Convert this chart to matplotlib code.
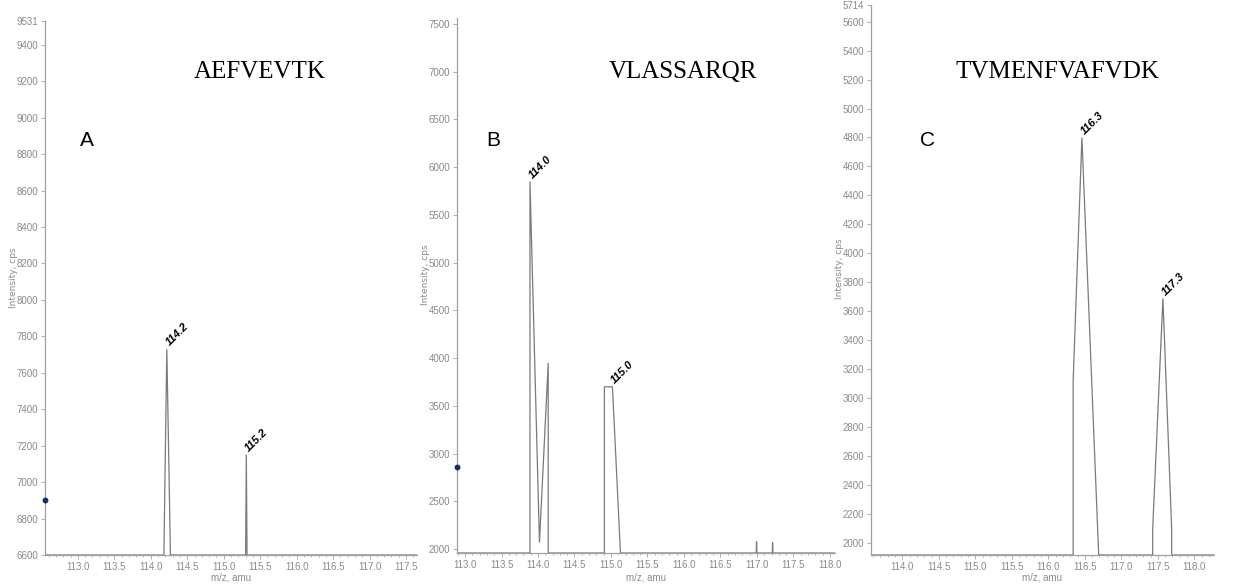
import matplotlib
matplotlib.use('Agg')
import matplotlib.pyplot as plt
from matplotlib.ticker import MultipleLocator, FixedLocator, FixedFormatter, FormatStrFormatter

# ---------------- data ----------------
peptides = ['AEFVEVTK', 'VLASSARQR', 'TVMENFVAFVDK']
panel_letters = ['A', 'B', 'C']

# Panel A trace (m/z, intensity)
a_mz = [112.55, 114.18, 114.22, 114.27, 115.30, 115.31, 115.32, 117.65]
a_int = [6600, 6600, 7730, 6600, 6600, 7150, 6600, 6600]
a_peak_labels = ['114.2', '115.2']
a_peak_mz = [114.22, 115.31]
a_peak_int = [7730, 7150]

# Panel B trace
b_mz = [112.89, 113.89, 113.89, 114.02, 114.14, 114.14, 114.91, 114.91, 115.02,
        115.13, 116.99, 116.995, 117.0, 117.21, 117.215, 117.22, 118.07]
b_int = [1960, 1960, 5850, 2070, 3950, 1960, 1960, 3700, 3700,
         1960, 1960, 2080, 1960, 1960, 2070, 1960, 1960]
b_peak_labels = ['114.0', '115.0']
b_peak_mz = [113.89, 115.02]
b_peak_int = [5850, 3700]

# Panel C trace
c_mz = [113.57, 116.34, 116.34, 116.46, 116.69, 117.43, 117.43, 117.57, 117.69, 117.69, 118.27]
c_int = [1920, 1920, 3120, 4800, 1920, 1920, 2100, 3690, 2100, 1920, 1920]
c_peak_labels = ['116.3', '117.3']
c_peak_mz = [116.46, 117.57]
c_peak_int = [4800, 3690]

# small cursor marks on the intensity axes (None = absent)
cursor_int = [6900, 2860, None]

# axis ranges / ticks
a_ylim = (6600, 9531)
b_ylim = (1960, 7560)
c_ylim = (1920, 5714)
a_yticks = [6600, 6800, 7000, 7200, 7400, 7600, 7800, 8000, 8200, 8400, 8600, 8800, 9000, 9200, 9400, 9531]
b_yticks = [2000, 2500, 3000, 3500, 4000, 4500, 5000, 5500, 6000, 6500, 7000, 7500]
c_yticks = [2000, 2200, 2400, 2600, 2800, 3000, 3200, 3400, 3600, 3800, 4000, 4200, 4400,
            4600, 4800, 5000, 5200, 5400, 5600, 5714]
a_xlim = (112.55, 117.65)
b_xlim = (112.89, 118.07)
c_xlim = (113.57, 118.27)

# ---------------- figure ----------------
W, H = 1242, 585
fig = plt.figure(figsize=(W / 100, H / 100), dpi=100)
fig.patch.set_facecolor('white')

tick_font = ['Liberation Sans Narrow', 'Liberation Sans', 'DejaVu Sans']
gray = '#8a8a8a'


def px_axes(left, top, right, bottom):
    return fig.add_axes([left / W, 1 - bottom / H, (right - left) / W, (bottom - top) / H])


boxes = [(45, 21, 417, 555), (457, 18, 835, 553), (871, 5, 1214, 555)]
traces = [(a_mz, a_int), (b_mz, b_int), (c_mz, c_int)]
ylims = [a_ylim, b_ylim, c_ylim]
xlims = [a_xlim, b_xlim, c_xlim]
yticks = [a_yticks, b_yticks, c_yticks]
peaks = [(a_peak_labels, a_peak_mz, a_peak_int),
         (b_peak_labels, b_peak_mz, b_peak_int),
         (c_peak_labels, c_peak_mz, c_peak_int)]
title_x = [260, 683, 1057]
letter_x = [80, 486, 920]

for i in range(3):
    L, T, R, B = boxes[i]
    ax = px_axes(L, T, R, B)
    mz, inten = traces[i]
    ax.plot(mz, inten, color='#7a7a7a', lw=0.9, solid_joinstyle='miter')
    ax.set_xlim(*xlims[i])
    ax.set_ylim(*ylims[i])
    for s in ['top', 'right']:
        ax.spines[s].set_visible(False)
    for s in ['left', 'bottom']:
        ax.spines[s].set_color('#a0a0a0')
        ax.spines[s].set_linewidth(0.9)
    ax.xaxis.set_major_locator(MultipleLocator(0.5))
    ax.xaxis.set_minor_locator(MultipleLocator(0.1))
    ax.xaxis.set_major_formatter(FormatStrFormatter('%.1f'))
    ax.yaxis.set_major_locator(FixedLocator(yticks[i]))
    ax.yaxis.set_major_formatter(FixedFormatter([str(v) for v in yticks[i]]))
    ax.tick_params(axis='both', which='major', length=3, width=0.6, color='#a0a0a0',
                   labelcolor=gray, labelsize=7, pad=2)
    ax.tick_params(axis='x', which='minor', length=1.5, width=0.5, color='#a0a0a0')
    for lab in ax.get_xticklabels() + ax.get_yticklabels():
        lab.set_family(tick_font)
    ax.set_ylabel('Intensity, cps', fontsize=6.5, color=gray, family=['DejaVu Sans'])
    ax.yaxis.set_label_coords(-27 / (R - L), 0.52)
    ax.set_xlabel('m/z, amu', fontsize=7, color=gray, family=tick_font)
    ax.xaxis.set_label_coords(0.5, -(572 - B) / (B - T))

    if cursor_int[i] is not None:
        ax.plot([xlims[i][0]], [cursor_int[i]], marker='o', ms=3.2, color='#1a2a6c',
                clip_on=False, zorder=5)

    labels, pmz, pint = peaks[i]
    for lab, x, y in zip(labels, pmz, pint):
        ax.annotate(lab, xy=(x, y), xytext=(3, 1), textcoords='offset points',
                    rotation=45, rotation_mode='anchor', fontsize=8,
                    fontweight='bold', fontstyle='italic', color='black',
                    ha='left', va='bottom', family=['Liberation Sans', 'DejaVu Sans'])

    fig.text(title_x[i] / W, 1 - 72 / H, peptides[i], fontsize=18,
             family=['Liberation Serif', 'DejaVu Serif'], ha='center', va='center')
    fig.text(letter_x[i] / W, 1 - 140 / H, panel_letters[i], fontsize=15,
             family=['Liberation Sans', 'DejaVu Sans'], ha='left', va='center')

fig.savefig('out.png', dpi=100, facecolor='white')
